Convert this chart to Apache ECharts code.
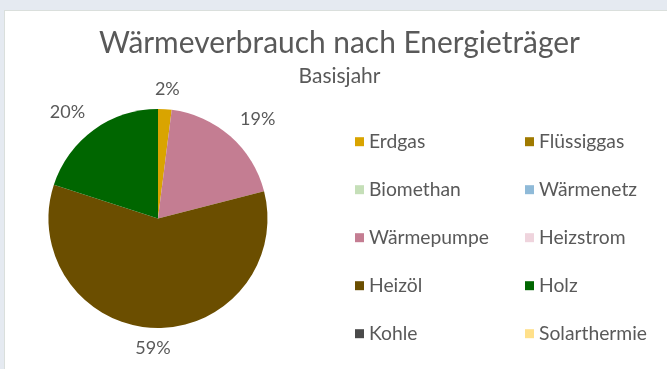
<!DOCTYPE html>
<html>
<head>
<meta charset="utf-8">
<script src="https://cdn.jsdelivr.net/npm/echarts@6/dist/echarts.min.js"></script>
<style>
  html, body { margin: 0; padding: 0; width: 667px; height: 369px; overflow: hidden; background: #e5eaf1; }
  #panel { position: absolute; left: 4px; top: 10px; right: 0; bottom: 0; background: #ffffff;
           border-left: 1px solid #dadfdc; border-top: 1px solid #dadfdc; }
  #chart { position: absolute; left: 0; top: 0; width: 667px; height: 369px; }
</style>
</head>
<body>
<div id="panel"></div>
<div id="chart"></div>
<script>
// Energy carriers and their share of heat consumption (percent)
const categories = ['Erdgas', 'Flüssiggas', 'Biomethan', 'Wärmenetz', 'Wärmepumpe',
                    'Heizstrom', 'Heizöl', 'Holz', 'Kohle', 'Solarthermie'];
const shares = [2, 0, 0, 0, 19, 0, 59, 20, 0, 0];
const colors = ['#d9a400', '#a07a00', '#c5dfb8', '#8fbad8', '#c47d92',
                '#efd4dd', '#6b4e00', '#006600', '#4a4a4a', '#ffe08a'];
const legendLeftColumn = ['Erdgas', 'Biomethan', 'Wärmepumpe', 'Heizöl', 'Kohle'];
const legendRightColumn = ['Flüssiggas', 'Wärmenetz', 'Heizstrom', 'Holz', 'Solarthermie'];
const titleText = 'Wärmeverbrauch nach Energieträger';
const subtitleText = 'Basisjahr';

const FONT = 'Lato, "Open Sans", sans-serif';
const TEXT_COLOR = '#595959';
const CENTER = [158, 218.5];
const RADIUS = 109.5;
const LABEL_GAP = 14.5;
const LABEL_FONT = 18;

const total = shares.reduce((a, b) => a + b, 0);

// Put each percentage just outside its slice, pushing the text box
// outward so that it never overlaps the disc.
function placeLabel(p) {
  let before = 0;
  for (let i = 0; i < p.dataIndex; i++) before += shares[i];
  const mid = (before + shares[p.dataIndex] / 2) / total * 2 * Math.PI;
  const ux = Math.sin(mid), uy = -Math.cos(mid);
  const clamp = v => Math.max(-1, Math.min(1, v));
  const halfW = p.labelRect.width / 2;
  const halfH = LABEL_FONT * 0.66 / 2;
  const d = RADIUS + LABEL_GAP;
  return {
    x: CENTER[0] + ux * d + clamp(2 * ux) * halfW,
    y: CENTER[1] + uy * d + clamp(2 * uy) * halfH,
    align: 'center',
    verticalAlign: 'middle'
  };
}

const legendBase = {
  orient: 'vertical',
  top: 131.7,
  itemWidth: 9,
  itemHeight: 9,
  itemGap: 28,
  icon: 'rect',
  selectedMode: false,
  padding: 0,
  textStyle: { fontFamily: FONT, fontSize: 19.3, lineHeight: 20, color: TEXT_COLOR }
};

const chart = echarts.init(document.getElementById('chart'), null, { renderer: 'canvas' });
chart.setOption({
  animation: false,
  backgroundColor: 'transparent',
  color: colors,
  title: [
    {
      text: titleText, left: 339.5, top: 28.5, textAlign: 'center', padding: 0,
      textStyle: { fontFamily: FONT, fontSize: 29.9, lineHeight: 30, fontWeight: 'normal', color: TEXT_COLOR }
    },
    {
      text: subtitleText, left: 339.5, top: 66, textAlign: 'center', padding: 0,
      textStyle: { fontFamily: FONT, fontSize: 21, lineHeight: 20, fontWeight: 'normal', color: TEXT_COLOR }
    }
  ],
  legend: [
    Object.assign({}, legendBase, { left: 355, data: legendLeftColumn }),
    Object.assign({}, legendBase, { left: 525, data: legendRightColumn })
  ],
  series: [{
    type: 'pie',
    center: CENTER,
    radius: RADIUS,
    startAngle: 90,
    clockwise: true,
    percentPrecision: 0,
    silent: true,
    itemStyle: { borderWidth: 0 },
    label: {
      show: true,
      position: 'outside',
      fontFamily: FONT,
      fontSize: LABEL_FONT,
      color: TEXT_COLOR,
      formatter: p => (p.value ? p.value + '%' : '')
    },
    labelLine: { show: false },
    labelLayout: placeLabel,
    emphasis: { disabled: true },
    data: categories.map((name, i) => ({ name: name, value: shares[i] }))
  }]
});
</script>
</body>
</html>
